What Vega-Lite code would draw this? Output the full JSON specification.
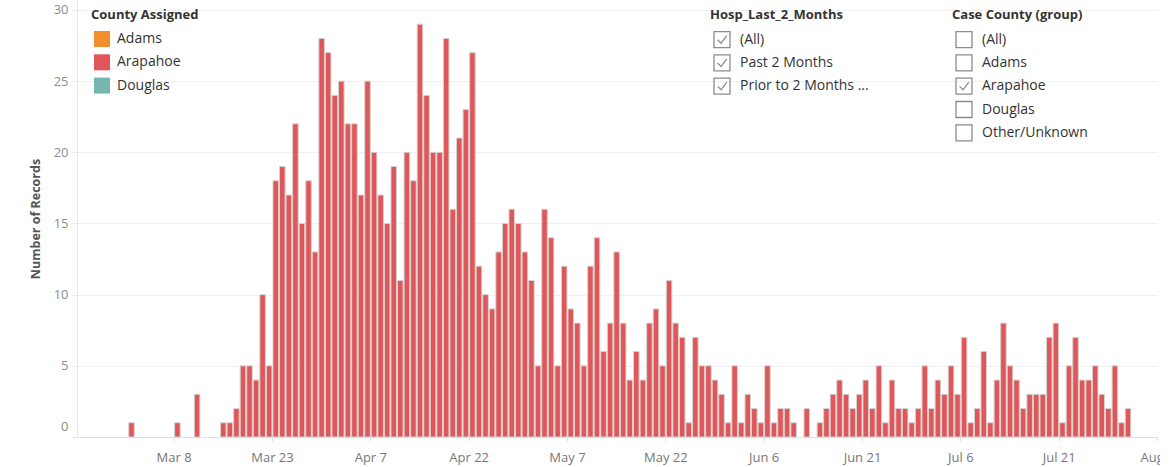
{
  "$schema": "https://vega.github.io/schema/vega-lite/v6.json",
  "width": 1080,
  "height": 437,
  "autosize": {"type": "none"},
  "padding": {"left": 77, "top": 0, "right": 3, "bottom": 30},
  "background": "white",
  "config": {
    "view": {"stroke": null},
    "font": "Open Sans",
    "legend": {
      "orient": "none",
      "padding": 0,
      "titleFont": "Open Sans",
      "titleFontSize": 13,
      "titleFontWeight": "bold",
      "titleColor": "#333333",
      "titleBaseline": "top",
      "labelFont": "Open Sans",
      "labelFontSize": 14,
      "labelColor": "#333333",
      "symbolOffset": 3
    }
  },
  "datasets": {
    "records": [
      {"date": "2020-03-01", "n": 1, "county": "Arapahoe"},
      {"date": "2020-03-08", "n": 1, "county": "Arapahoe"},
      {"date": "2020-03-11", "n": 3, "county": "Arapahoe"},
      {"date": "2020-03-15", "n": 1, "county": "Arapahoe"},
      {"date": "2020-03-16", "n": 1, "county": "Arapahoe"},
      {"date": "2020-03-17", "n": 2, "county": "Arapahoe"},
      {"date": "2020-03-18", "n": 5, "county": "Arapahoe"},
      {"date": "2020-03-19", "n": 5, "county": "Arapahoe"},
      {"date": "2020-03-20", "n": 4, "county": "Arapahoe"},
      {"date": "2020-03-21", "n": 10, "county": "Arapahoe"},
      {"date": "2020-03-22", "n": 5, "county": "Arapahoe"},
      {"date": "2020-03-23", "n": 18, "county": "Arapahoe"},
      {"date": "2020-03-24", "n": 19, "county": "Arapahoe"},
      {"date": "2020-03-25", "n": 17, "county": "Arapahoe"},
      {"date": "2020-03-26", "n": 22, "county": "Arapahoe"},
      {"date": "2020-03-27", "n": 15, "county": "Arapahoe"},
      {"date": "2020-03-28", "n": 18, "county": "Arapahoe"},
      {"date": "2020-03-29", "n": 13, "county": "Arapahoe"},
      {"date": "2020-03-30", "n": 28, "county": "Arapahoe"},
      {"date": "2020-03-31", "n": 27, "county": "Arapahoe"},
      {"date": "2020-04-01", "n": 24, "county": "Arapahoe"},
      {"date": "2020-04-02", "n": 25, "county": "Arapahoe"},
      {"date": "2020-04-03", "n": 22, "county": "Arapahoe"},
      {"date": "2020-04-04", "n": 22, "county": "Arapahoe"},
      {"date": "2020-04-05", "n": 17, "county": "Arapahoe"},
      {"date": "2020-04-06", "n": 25, "county": "Arapahoe"},
      {"date": "2020-04-07", "n": 20, "county": "Arapahoe"},
      {"date": "2020-04-08", "n": 17, "county": "Arapahoe"},
      {"date": "2020-04-09", "n": 15, "county": "Arapahoe"},
      {"date": "2020-04-10", "n": 19, "county": "Arapahoe"},
      {"date": "2020-04-11", "n": 11, "county": "Arapahoe"},
      {"date": "2020-04-12", "n": 20, "county": "Arapahoe"},
      {"date": "2020-04-13", "n": 18, "county": "Arapahoe"},
      {"date": "2020-04-14", "n": 29, "county": "Arapahoe"},
      {"date": "2020-04-15", "n": 24, "county": "Arapahoe"},
      {"date": "2020-04-16", "n": 20, "county": "Arapahoe"},
      {"date": "2020-04-17", "n": 20, "county": "Arapahoe"},
      {"date": "2020-04-18", "n": 28, "county": "Arapahoe"},
      {"date": "2020-04-19", "n": 16, "county": "Arapahoe"},
      {"date": "2020-04-20", "n": 21, "county": "Arapahoe"},
      {"date": "2020-04-21", "n": 23, "county": "Arapahoe"},
      {"date": "2020-04-22", "n": 27, "county": "Arapahoe"},
      {"date": "2020-04-23", "n": 12, "county": "Arapahoe"},
      {"date": "2020-04-24", "n": 10, "county": "Arapahoe"},
      {"date": "2020-04-25", "n": 9, "county": "Arapahoe"},
      {"date": "2020-04-26", "n": 13, "county": "Arapahoe"},
      {"date": "2020-04-27", "n": 15, "county": "Arapahoe"},
      {"date": "2020-04-28", "n": 16, "county": "Arapahoe"},
      {"date": "2020-04-29", "n": 15, "county": "Arapahoe"},
      {"date": "2020-04-30", "n": 13, "county": "Arapahoe"},
      {"date": "2020-05-01", "n": 11, "county": "Arapahoe"},
      {"date": "2020-05-02", "n": 5, "county": "Arapahoe"},
      {"date": "2020-05-03", "n": 16, "county": "Arapahoe"},
      {"date": "2020-05-04", "n": 14, "county": "Arapahoe"},
      {"date": "2020-05-05", "n": 5, "county": "Arapahoe"},
      {"date": "2020-05-06", "n": 12, "county": "Arapahoe"},
      {"date": "2020-05-07", "n": 9, "county": "Arapahoe"},
      {"date": "2020-05-08", "n": 8, "county": "Arapahoe"},
      {"date": "2020-05-09", "n": 5, "county": "Arapahoe"},
      {"date": "2020-05-10", "n": 12, "county": "Arapahoe"},
      {"date": "2020-05-11", "n": 14, "county": "Arapahoe"},
      {"date": "2020-05-12", "n": 6, "county": "Arapahoe"},
      {"date": "2020-05-13", "n": 8, "county": "Arapahoe"},
      {"date": "2020-05-14", "n": 13, "county": "Arapahoe"},
      {"date": "2020-05-15", "n": 8, "county": "Arapahoe"},
      {"date": "2020-05-16", "n": 4, "county": "Arapahoe"},
      {"date": "2020-05-17", "n": 6, "county": "Arapahoe"},
      {"date": "2020-05-18", "n": 4, "county": "Arapahoe"},
      {"date": "2020-05-19", "n": 8, "county": "Arapahoe"},
      {"date": "2020-05-20", "n": 9, "county": "Arapahoe"},
      {"date": "2020-05-21", "n": 5, "county": "Arapahoe"},
      {"date": "2020-05-22", "n": 11, "county": "Arapahoe"},
      {"date": "2020-05-23", "n": 8, "county": "Arapahoe"},
      {"date": "2020-05-24", "n": 7, "county": "Arapahoe"},
      {"date": "2020-05-25", "n": 1, "county": "Arapahoe"},
      {"date": "2020-05-26", "n": 7, "county": "Arapahoe"},
      {"date": "2020-05-27", "n": 5, "county": "Arapahoe"},
      {"date": "2020-05-28", "n": 5, "county": "Arapahoe"},
      {"date": "2020-05-29", "n": 4, "county": "Arapahoe"},
      {"date": "2020-05-30", "n": 3, "county": "Arapahoe"},
      {"date": "2020-05-31", "n": 1, "county": "Arapahoe"},
      {"date": "2020-06-01", "n": 5, "county": "Arapahoe"},
      {"date": "2020-06-02", "n": 1, "county": "Arapahoe"},
      {"date": "2020-06-03", "n": 3, "county": "Arapahoe"},
      {"date": "2020-06-04", "n": 2, "county": "Arapahoe"},
      {"date": "2020-06-05", "n": 1, "county": "Arapahoe"},
      {"date": "2020-06-06", "n": 5, "county": "Arapahoe"},
      {"date": "2020-06-07", "n": 1, "county": "Arapahoe"},
      {"date": "2020-06-08", "n": 2, "county": "Arapahoe"},
      {"date": "2020-06-09", "n": 2, "county": "Arapahoe"},
      {"date": "2020-06-10", "n": 1, "county": "Arapahoe"},
      {"date": "2020-06-12", "n": 2, "county": "Arapahoe"},
      {"date": "2020-06-14", "n": 1, "county": "Arapahoe"},
      {"date": "2020-06-15", "n": 2, "county": "Arapahoe"},
      {"date": "2020-06-16", "n": 3, "county": "Arapahoe"},
      {"date": "2020-06-17", "n": 4, "county": "Arapahoe"},
      {"date": "2020-06-18", "n": 3, "county": "Arapahoe"},
      {"date": "2020-06-19", "n": 2, "county": "Arapahoe"},
      {"date": "2020-06-20", "n": 3, "county": "Arapahoe"},
      {"date": "2020-06-21", "n": 4, "county": "Arapahoe"},
      {"date": "2020-06-22", "n": 2, "county": "Arapahoe"},
      {"date": "2020-06-23", "n": 5, "county": "Arapahoe"},
      {"date": "2020-06-24", "n": 1, "county": "Arapahoe"},
      {"date": "2020-06-25", "n": 4, "county": "Arapahoe"},
      {"date": "2020-06-26", "n": 2, "county": "Arapahoe"},
      {"date": "2020-06-27", "n": 2, "county": "Arapahoe"},
      {"date": "2020-06-28", "n": 1, "county": "Arapahoe"},
      {"date": "2020-06-29", "n": 2, "county": "Arapahoe"},
      {"date": "2020-06-30", "n": 5, "county": "Arapahoe"},
      {"date": "2020-07-01", "n": 2, "county": "Arapahoe"},
      {"date": "2020-07-02", "n": 4, "county": "Arapahoe"},
      {"date": "2020-07-03", "n": 3, "county": "Arapahoe"},
      {"date": "2020-07-04", "n": 5, "county": "Arapahoe"},
      {"date": "2020-07-05", "n": 3, "county": "Arapahoe"},
      {"date": "2020-07-06", "n": 7, "county": "Arapahoe"},
      {"date": "2020-07-07", "n": 1, "county": "Arapahoe"},
      {"date": "2020-07-08", "n": 2, "county": "Arapahoe"},
      {"date": "2020-07-09", "n": 6, "county": "Arapahoe"},
      {"date": "2020-07-10", "n": 1, "county": "Arapahoe"},
      {"date": "2020-07-11", "n": 4, "county": "Arapahoe"},
      {"date": "2020-07-12", "n": 8, "county": "Arapahoe"},
      {"date": "2020-07-13", "n": 5, "county": "Arapahoe"},
      {"date": "2020-07-14", "n": 4, "county": "Arapahoe"},
      {"date": "2020-07-15", "n": 2, "county": "Arapahoe"},
      {"date": "2020-07-16", "n": 3, "county": "Arapahoe"},
      {"date": "2020-07-17", "n": 3, "county": "Arapahoe"},
      {"date": "2020-07-18", "n": 3, "county": "Arapahoe"},
      {"date": "2020-07-19", "n": 7, "county": "Arapahoe"},
      {"date": "2020-07-20", "n": 8, "county": "Arapahoe"},
      {"date": "2020-07-21", "n": 1, "county": "Arapahoe"},
      {"date": "2020-07-22", "n": 5, "county": "Arapahoe"},
      {"date": "2020-07-23", "n": 7, "county": "Arapahoe"},
      {"date": "2020-07-24", "n": 4, "county": "Arapahoe"},
      {"date": "2020-07-25", "n": 4, "county": "Arapahoe"},
      {"date": "2020-07-26", "n": 5, "county": "Arapahoe"},
      {"date": "2020-07-27", "n": 3, "county": "Arapahoe"},
      {"date": "2020-07-28", "n": 2, "county": "Arapahoe"},
      {"date": "2020-07-29", "n": 5, "county": "Arapahoe"},
      {"date": "2020-07-30", "n": 1, "county": "Arapahoe"},
      {"date": "2020-07-31", "n": 2, "county": "Arapahoe"}
    ],
    "filters": [
      {"filter": "Hosp_Last_2_Months", "item": "(All)"},
      {"filter": "Hosp_Last_2_Months", "item": "Past 2 Months"},
      {"filter": "Hosp_Last_2_Months", "item": "Prior to 2 Months ..."},
      {"filter": "Case County (group)", "item": "(All)"},
      {"filter": "Case County (group)", "item": "Adams"},
      {"filter": "Case County (group)", "item": "Arapahoe"},
      {"filter": "Case County (group)", "item": "Douglas"},
      {"filter": "Case County (group)", "item": "Other/Unknown"}
    ]
  },
  "layer": [
    {
      "data": {"name": "records"},
      "mark": {"type": "bar", "stroke": "#d3d3d3", "strokeWidth": 1},
      "encoding": {
        "x": {
          "field": "date",
          "type": "temporal",
          "timeUnit": "utcyearmonthdate",
          "scale": {
            "domain": [
              {"year": 2020, "month": 2, "date": 22, "hours": 6, "minutes": 15, "utc": true},
              {"year": 2020, "month": 8, "date": 5, "utc": true}
            ]
          },
          "axis": {
            "title": null,
            "values": [
              {"year": 2020, "month": 3, "date": 8, "utc": true},
              {"year": 2020, "month": 3, "date": 23, "utc": true},
              {"year": 2020, "month": 4, "date": 7, "utc": true},
              {"year": 2020, "month": 4, "date": 22, "utc": true},
              {"year": 2020, "month": 5, "date": 7, "utc": true},
              {"year": 2020, "month": 5, "date": 22, "utc": true},
              {"year": 2020, "month": 6, "date": 6, "utc": true},
              {"year": 2020, "month": 6, "date": 21, "utc": true},
              {"year": 2020, "month": 7, "date": 6, "utc": true},
              {"year": 2020, "month": 7, "date": 21, "utc": true},
              {"year": 2020, "month": 8, "date": 5, "utc": true}
            ],
            "format": "%b %-d",
            "grid": false,
            "domainColor": "#e0e0e0",
            "tickColor": "#e0e0e0",
            "tickSize": 4,
            "labelColor": "#777777",
            "labelFontSize": 13,
            "labelFont": "Open Sans",
            "labelPadding": 10,
            "labelFlush": false,
            "labelOverlap": false
          }
        },
        "y": {
          "field": "n",
          "type": "quantitative",
          "scale": {"domain": [0, 30.7], "nice": false},
          "axis": {
            "title": "Number of Records",
            "values": [0, 5, 10, 15, 20, 25, 30],
            "grid": true,
            "gridColor": "#f0f0f0",
            "domainColor": "#e8e8e8",
            "tickColor": "#ebebeb",
            "tickSize": 6,
            "labelColor": "#8c8c8c",
            "labelFontSize": 13,
            "labelFont": "Open Sans",
            "labelPadding": 3,
            "labelFlush": true,
            "labelFlushOffset": -3.5,
            "titleFont": "Open Sans",
            "titleFontSize": 12.5,
            "titleFontWeight": "bold",
            "titleColor": "#555555",
            "titlePadding": 11
          }
        },
        "color": {
          "field": "county",
          "type": "nominal",
          "scale": {"domain": ["Adams", "Arapahoe", "Douglas"], "range": ["#f28e2b", "#e15759", "#76b7b2"]},
          "legend": {
            "title": "County Assigned",
            "legendX": 14,
            "legendY": 8.5,
            "titlePadding": 9.5,
            "rowPadding": 7.3,
            "symbolType": "square",
            "symbolSize": 256,
            "symbolStrokeWidth": 0,
            "labelOffset": 7
          }
        }
      }
    },
    {
      "data": {"name": "filters"},
      "transform": [{"filter": "datum.filter === 'Hosp_Last_2_Months'"}],
      "mark": {"type": "point", "opacity": 0, "color": "#8c8c8c"},
      "encoding": {
        "shape": {
          "field": "item",
          "type": "nominal",
          "scale": {
            "domain": ["(All)", "Past 2 Months", "Prior to 2 Months ..."],
            "range": [
              "M-1,-1H1V1H-1Z M-0.55,0.02L-0.12,0.45L0.6,-0.5",
              "M-1,-1H1V1H-1Z M-0.55,0.02L-0.12,0.45L0.6,-0.5",
              "M-1,-1H1V1H-1Z M-0.55,0.02L-0.12,0.45L0.6,-0.5"
            ]
          },
          "legend": {
            "title": "Hosp_Last_2_Months",
            "legendX": 633,
            "legendY": 9,
            "titlePadding": 8.6,
            "rowPadding": 1.3,
            "symbolSize": 256,
            "symbolStrokeColor": "#8c8c8c",
            "symbolStrokeWidth": 1.3,
            "symbolFillColor": "#ffffff",
            "symbolOpacity": 1,
            "labelOffset": 9
          }
        }
      }
    },
    {
      "data": {"name": "filters"},
      "transform": [{"filter": "datum.filter === 'Case County (group)'"}],
      "mark": {"type": "point", "opacity": 0, "color": "#8c8c8c"},
      "encoding": {
        "shape": {
          "field": "item",
          "type": "nominal",
          "scale": {
            "domain": ["(All)", "Adams", "Arapahoe", "Douglas", "Other/Unknown"],
            "range": [
              "M-1,-1H1V1H-1Z",
              "M-1,-1H1V1H-1Z",
              "M-1,-1H1V1H-1Z M-0.55,0.02L-0.12,0.45L0.6,-0.5",
              "M-1,-1H1V1H-1Z",
              "M-1,-1H1V1H-1Z"
            ]
          },
          "legend": {
            "title": "Case County (group)",
            "legendX": 875,
            "legendY": 9,
            "titlePadding": 8.6,
            "rowPadding": 1.3,
            "symbolSize": 256,
            "symbolStrokeColor": "#8c8c8c",
            "symbolStrokeWidth": 1.3,
            "symbolFillColor": "#ffffff",
            "symbolOpacity": 1,
            "labelOffset": 9
          }
        }
      }
    }
  ],
  "resolve": {"scale": {"shape": "independent"}, "legend": {"shape": "independent"}}
}
